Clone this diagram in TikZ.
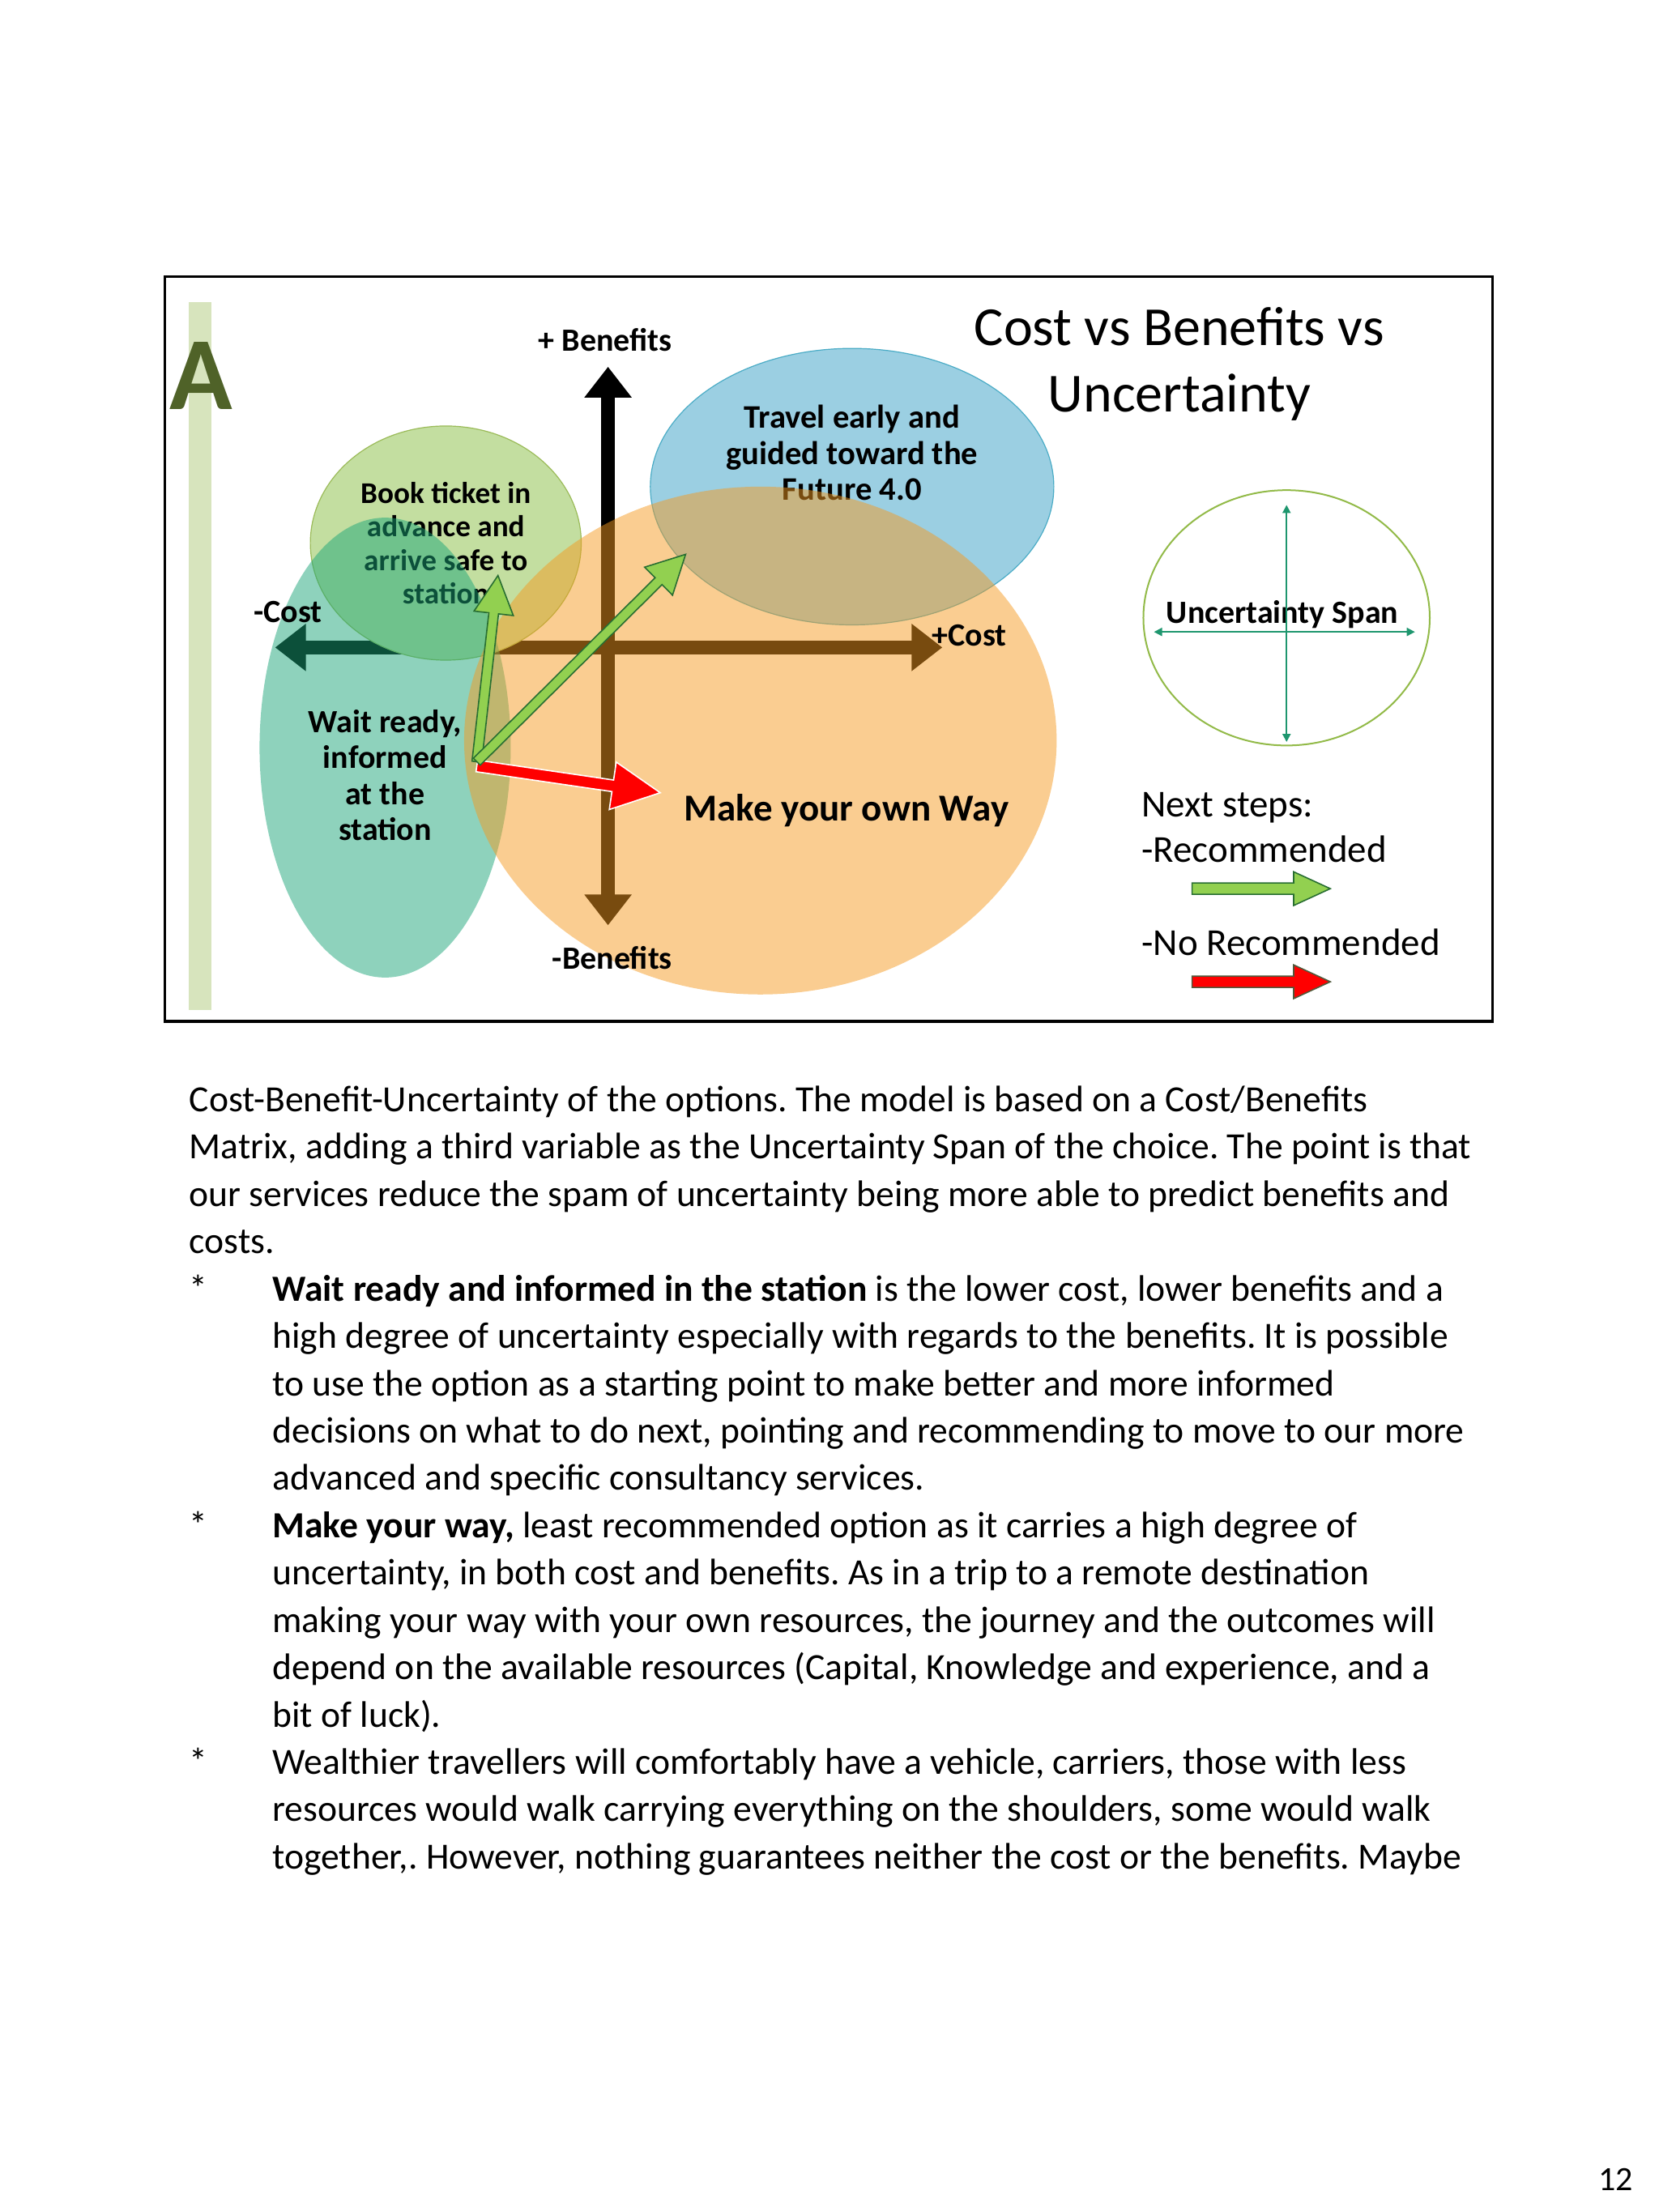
\documentclass[tikz,border=0pt]{standalone}
\usepackage{fontspec}
\setmainfont{Carlito}
\usetikzlibrary{arrows.meta,calc}
\definecolor{barg}{RGB}{215,228,189}
\definecolor{aolive}{RGB}{79,98,40}
\definecolor{blueE}{RGB}{155,207,226}
\definecolor{blueL}{RGB}{75,172,198}
\definecolor{greenE}{RGB}{195,222,160}
\definecolor{greenL}{RGB}{155,187,89}
\definecolor{tealE}{RGB}{25,165,120}
\definecolor{orangeE}{RGB}{245,153,31}
\definecolor{arrG}{RGB}{146,208,80}
\definecolor{arrGL}{RGB}{40,110,50}
\definecolor{spanL}{RGB}{146,186,72}
\definecolor{spanA}{RGB}{30,150,110}
\definecolor{redL}{RGB}{80,90,60}
\newcommand{\blockarr}[7]{% fill, draw, start, end, shaft half width, head half width, head length
  \coordinate (hb) at ($(#4)!#7!(#3)$);
  \filldraw[fill=#1, draw=#2, line width=0.8pt, line join=miter]
    ($(#3)!#5!90:(#4)$) -- ($(hb)!#5!-90:(#3)$) -- ($(hb)!#6!-90:(#3)$) -- (#4)
    -- ($(hb)!#6!90:(#3)$) -- ($(hb)!#5!90:(#3)$) -- ($(#3)!#5!-90:(#4)$) -- cycle;
}
\frenchspacing
\begin{document}
\begin{tikzpicture}[x=0.87075pt,y=-0.87075pt,
  lab/.style={font=\bfseries\fontsize{20}{22}\selectfont, text=black, align=center, inner sep=0pt},
  slab/.style={font=\bfseries\fontsize{20}{22}\selectfont, text=black, anchor=base, inner sep=0pt},
  body/.style={anchor=base west, inner sep=0pt, font=\fontsize{22.8}{27}\selectfont},
  leg/.style={anchor=base west, inner sep=0pt, font=\fontsize{23.5}{28}\selectfont},
  ax/.style={line width=8.7pt, {Triangle[length=19pt,width=28pt]}-{Triangle[length=19pt,width=28pt]}},
  spanarr/.style={spanA, line width=1pt, {Triangle[length=5pt,width=5pt]}-{Triangle[length=5pt,width=5pt]}}
]
\useasboundingbox[fill=white] (0,0) rectangle (1176,1568.2);

% frame and side bar
\draw[line width=1.7pt] (117,196) rectangle (1058,724);
\fill[barg] (134,214) rectangle (150,716);
\node[anchor=base, font=\bfseries\fontsize{64}{64}\selectfont, text=aolive, inner sep=0pt] (A) at (142.5,290) {A};

% axes
\coordinate (cl) at (195,459); \coordinate (cr) at (668,459);
\coordinate (bt) at (431,260); \coordinate (bb) at (431,656);
\draw[ax] (cl) -- (cr);
\draw[ax] (bt) -- (bb);

% blue ellipse
\draw[fill=blueE, draw=blueL, line width=0.6pt] (604,345) ellipse [x radius=143, y radius=98];
\node[lab, font=\bfseries\fontsize{20.3}{22.2}\selectfont] (travel) at (604,321) {Travel early and\\guided toward the\\Future 4.0};

% green ellipse
\draw[fill=greenE, draw=greenL, line width=0.6pt] (316,385) ellipse [x radius=96, y radius=83];
\node[lab, font=\bfseries\fontsize{18.6}{20.6}\selectfont] (book) at (316,385) {Book ticket in\\advance and\\arrive safe to\\station};

% teal and orange ellipses
\fill[tealE, fill opacity=0.49] (273,530) ellipse [x radius=89, y radius=163];
\fill[orangeE, fill opacity=0.49] (539,525) ellipse [x radius=210, y radius=180];

\node[lab, font=\bfseries\fontsize{20}{22.2}\selectfont] (wait) at (273,549.5) {Wait ready,\\informed\\at the\\station};
\node[slab, font=\bfseries\fontsize{23.5}{26}\selectfont] (own) at (600,582) {Make your own Way};

% axis labels
\node[slab] (mcost) at (204,441) {-Cost};
\node[slab] (pcost) at (687,458) {+Cost};
\node[slab] (pben) at (429,249) {+ Benefits};
\node[slab] (mben) at (434,687) {-Benefits};

% title
\node[anchor=base, inner sep=0pt, font=\fontsize{34}{40}\selectfont] (title1) at (836,245) {Cost vs Benefits vs};
\node[anchor=base, inner sep=0pt, font=\fontsize{34}{40}\selectfont] (title2) at (836,292) {Uncertainty};

% uncertainty span
\draw[spanL, line width=1pt] (912,438) ellipse [x radius=101.5, y radius=90.5];
\node[slab] (uspan) at (909,442) {Uncertainty Span};
\coordinate (su) at (912,358); \coordinate (sd) at (912,526);
\coordinate (sl) at (818,448); \coordinate (sr) at (1003,448);
\draw[spanarr] (su) -- (sd);
\draw[spanarr] (sl) -- (sr);

% legend
\node[leg] (next) at (809,579) {Next steps:};
\node[leg] (rec) at (809,611) {-Recommended};
\node[leg] (norec) at (809,677) {-No Recommended};
\coordinate (lg1) at (845,630); \coordinate (lg2) at (943,630);
\coordinate (lr1) at (845,696); \coordinate (lr2) at (943,696);
\blockarr{arrG}{arrGL}{lg1}{lg2}{3.5pt}{10.4pt}{22.6pt}
\blockarr{red}{redL}{lr1}{lr2}{3.5pt}{10.4pt}{22.6pt}

% next-step arrows
\coordinate (ws) at (338,540);
\coordinate (gt1) at (353,408);
\coordinate (gt2) at (486,393);
\coordinate (rs) at (338,543);
\coordinate (rt) at (468,562);
\blockarr{red}{white}{rs}{rt}{3.6pt}{14.8pt}{29.6pt}
\blockarr{arrG}{arrGL}{ws}{gt1}{3pt}{12.2pt}{23.5pt}
\blockarr{arrG}{arrGL}{ws}{gt2}{3pt}{12.2pt}{23.5pt}

% body text
\node[body] (b1) at (134,788) {Cost-Benefit-Uncertainty of the options. The model is based on a Cost/Benefits};
\node[body] (b2) at (134,821.6) {Matrix, adding a third variable as the Uncertainty Span of the choice. The point is that};
\node[body] (b3) at (134,855.1) {our services reduce the spam of uncertainty being more able to predict benefits and};
\node[body] (b4) at (134,888.7) {costs.};
\node[body] (s1) at (134,922.2) {*};
\node[body] (b5) at (193,922.2) {\textbf{Wait ready and informed in the station} is the lower cost, lower benefits and a};
\node[body] (b6) at (193,955.8) {high degree of uncertainty especially with regards to the benefits. It is possible};
\node[body] (b7) at (193,989.4) {to use the option as a starting point to make better and more informed};
\node[body] (b8) at (193,1022.9) {decisions on what to do next, pointing and recommending to move to our more};
\node[body] (b9) at (193,1056.5) {advanced and specific consultancy services.};
\node[body] (s2) at (134,1090.0) {*};
\node[body] (b10) at (193,1090.0) {\textbf{Make your way,} least recommended option as it carries a high degree of};
\node[body] (b11) at (193,1123.6) {uncertainty, in both cost and benefits. As in a trip to a remote destination};
\node[body] (b12) at (193,1157.2) {making your way with your own resources, the journey and the outcomes will};
\node[body] (b13) at (193,1190.7) {depend on the available resources (Capital, Knowledge and experience, and a};
\node[body] (b14) at (193,1224.3) {bit of luck).};
\node[body] (s3) at (134,1257.8) {*};
\node[body] (b15) at (193,1257.8) {Wealthier travellers will comfortably have a vehicle, carriers, those with less};
\node[body] (b16) at (193,1291.4) {resources would walk carrying everything on the shoulders, some would walk};
\node[body] (b17) at (193,1325.0) {together,. However, nothing guarantees neither the cost or the benefits. Maybe};

% page number
\node[anchor=base east, inner sep=0pt, font=\fontsize{21}{25}\selectfont] (pg) at (1158,1553) {12};
\end{tikzpicture}
\end{document}
